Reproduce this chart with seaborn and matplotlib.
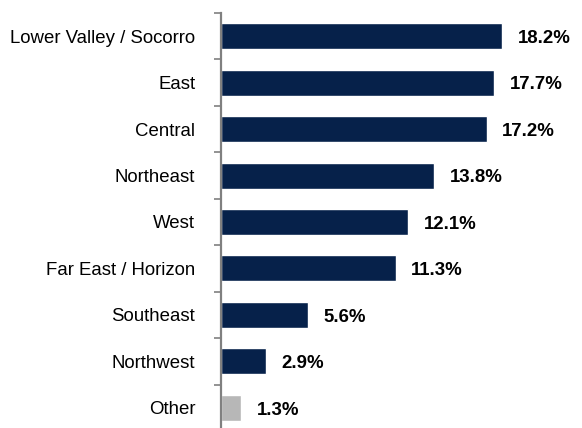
import matplotlib
matplotlib.use("Agg")
import matplotlib.pyplot as plt
import seaborn as sns
import numpy as np
import pandas as pd

regions = ["Lower Valley / Socorro", "East", "Central", "Northeast", "West",
           "Far East / Horizon", "Southeast", "Northwest", "Other"]
shares = [18.2, 17.7, 17.2, 13.8, 12.1, 11.3, 5.6, 2.9, 1.3]
value_labels = ["18.2%", "17.7%", "17.2%", "13.8%", "12.1%", "11.3%", "5.6%", "2.9%", "1.3%"]

navy = "#06214a"
grey = "#b7b7b7"
colors = [navy] * 8 + [grey]

df = pd.DataFrame({"region": regions, "share": shares})

sns.set_style("white")
plt.rcParams["font.family"] = ["Liberation Sans", "DejaVu Sans"]

fig = plt.figure(figsize=(5.82, 4.28), dpi=100)
# axes runs a little below the bottom edge, like the original
ax = fig.add_axes([221 / 582, -3 / 428, 309 / 582, 418 / 428])

sns.barplot(data=df, y="region", x="share", hue="region", palette=colors,
            legend=False, orient="h", width=0.56, ax=ax, saturation=1)

ax.set_xlim(0, 20)
ax.set_ylim(len(regions) - 0.5, -0.5)
ax.set_xlabel("")
ax.set_ylabel("")
ax.set_xticks([])

for s in ["top", "right", "bottom"]:
    ax.spines[s].set_visible(False)
ax.spines["left"].set_color("#808080")
ax.spines["left"].set_linewidth(1.6)

ax.tick_params(axis="y", which="major", length=0, pad=18.5, labelsize=13.4, labelcolor="black")
ax.set_yticks(np.arange(-0.5, len(regions), 1), minor=True)
ax.tick_params(axis="y", which="minor", length=5, width=1.2, color="#808080", left=True)

for i, (v, lab) in enumerate(zip(shares, value_labels)):
    ax.text(v + 1.0, i + 0.05, lab, va="center", ha="left", fontsize=13.4,
            fontweight="bold", color="black")

fig.savefig("out.png", dpi=100)
